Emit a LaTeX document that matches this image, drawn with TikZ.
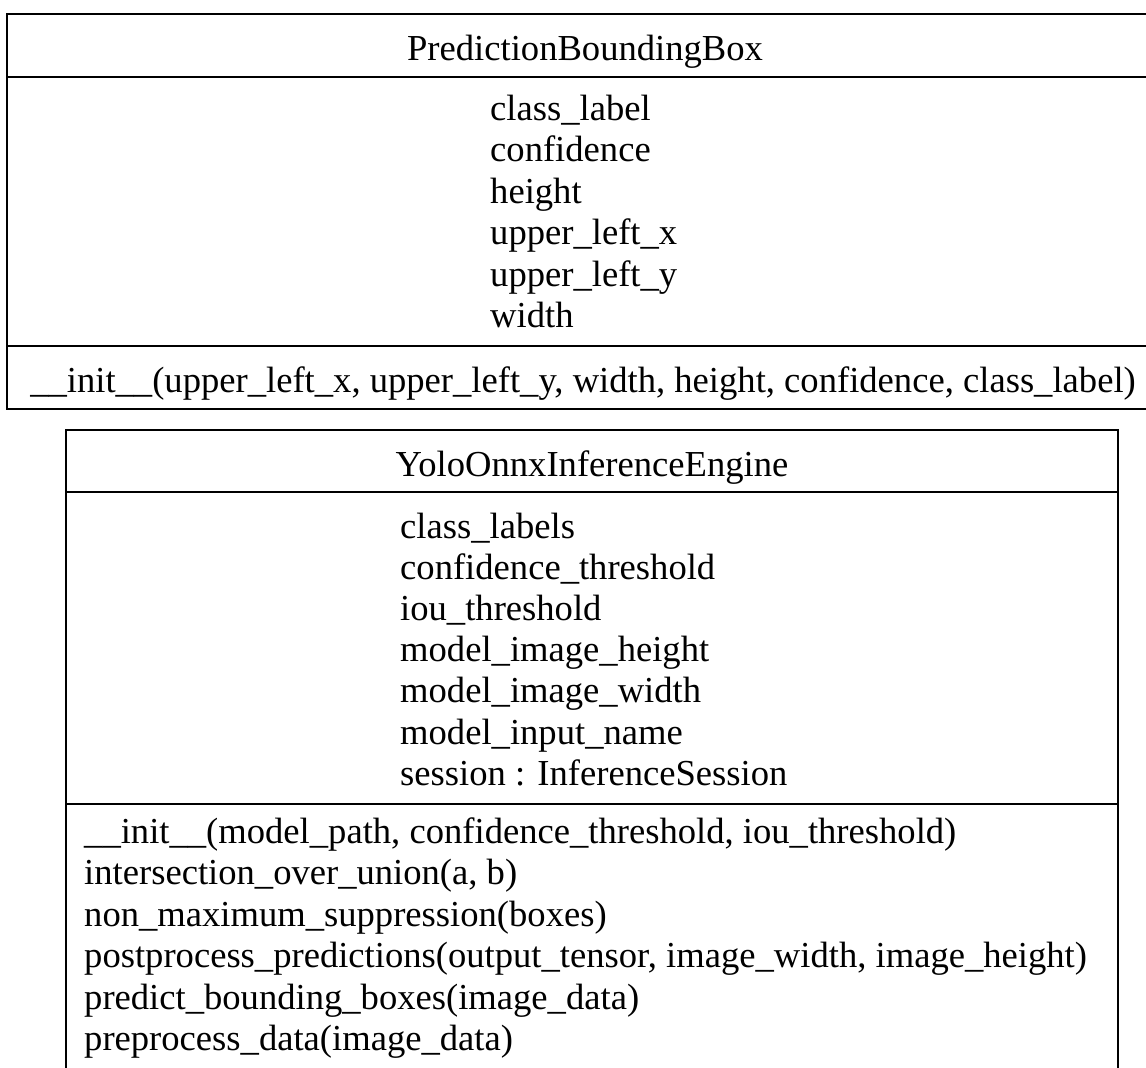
\documentclass[tikz,border=0pt]{standalone}
\usepackage{fontspec}
\setmainfont{Liberation Serif}
\begin{document}
\begin{tikzpicture}[x=1pt,y=-1pt,
  frame/.style={draw=black, line width=2.6pt},
  txt/.style={inner sep=0pt, font=\fontsize{36.6}{41.3}\selectfont},
  title/.style={txt, anchor=base},
  item/.style={txt, anchor=base west}]
\clip (0,0) rectangle (1146,1068);
\fill[white] (0,0) rectangle (1146,1068);

% ---- class PredictionBoundingBox ----
\draw[frame] (7,14) rectangle (1163,409);
\draw[frame] (7,77) -- (1163,77);
\draw[frame] (7,346) -- (1163,346);
\node[title] (pbbName) at (585,60) {PredictionBoundingBox};
\node[item] (pbbA1) at (490,120) {class\_label};
\node[item] (pbbA2) at (490,161.5) {confidence};
\node[item] (pbbA3) at (490,203) {height};
\node[item] (pbbA4) at (490,244.5) {upper\_left\_x};
\node[item] (pbbA5) at (490,286) {upper\_left\_y};
\node[item] (pbbA6) at (490,327.5) {width};
\node[title] (pbbM1) at (583,392) {\_\_init\_\_(upper\_left\_x, upper\_left\_y, width, height, confidence, class\_label)};

% ---- class YoloOnnxInferenceEngine ----
\draw[frame] (66,1090) -- (66,430) -- (1118,430) -- (1118,1090);
\draw[frame] (66,492) -- (1118,492);
\draw[frame] (66,804) -- (1118,804);
\node[title] (yoloName) at (592,476) {YoloOnnxInferenceEngine};
\node[item] (yoloA1) at (400,538) {class\_labels};
\node[item] (yoloA2) at (400,579.2) {confidence\_threshold};
\node[item] (yoloA3) at (400,620.4) {iou\_threshold};
\node[item] (yoloA4) at (400,661.6) {model\_image\_height};
\node[item] (yoloA5) at (400,702.8) {model\_image\_width};
\node[item] (yoloA6) at (400,744) {model\_input\_name};
\node[item] (yoloA7) at (400,785.2) {session : InferenceSession};
\node[item] (yoloM1) at (84,843) {\_\_init\_\_(model\_path, confidence\_threshold, iou\_threshold)};
\node[item] (yoloM2) at (84,884.5) {intersection\_over\_union(a, b)};
\node[item] (yoloM3) at (84,926) {non\_maximum\_suppression(boxes)};
\node[item] (yoloM4) at (84,967.5) {postprocess\_predictions(output\_tensor, image\_width, image\_height)};
\node[item] (yoloM5) at (84,1009) {predict\_bounding\_boxes(image\_data)};
\node[item] (yoloM6) at (84,1050.5) {preprocess\_data(image\_data)};
\end{tikzpicture}
\end{document}
